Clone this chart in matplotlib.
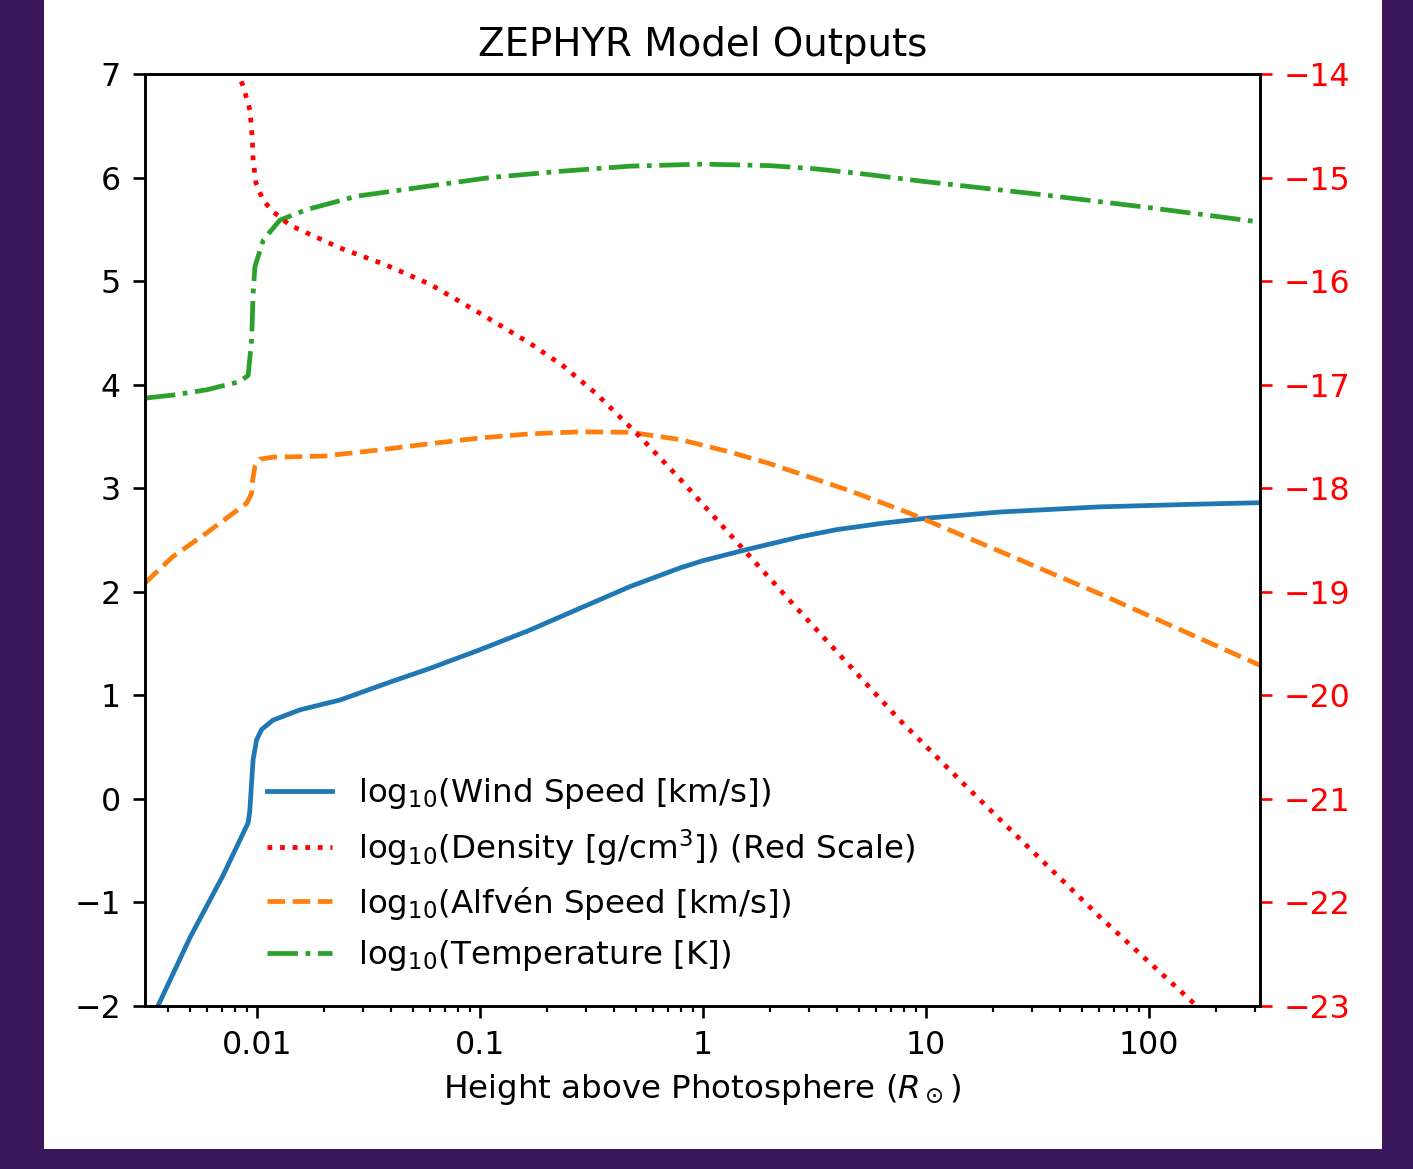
import matplotlib
matplotlib.use("Agg")
import matplotlib.pyplot as plt
from matplotlib.patches import Rectangle
from matplotlib import ticker

# heights above photosphere (R_sun) and log10 values
h_wind = [0.00315, 0.0036, 0.00501, 0.00705, 0.00914, 0.0093, 0.00947, 0.00962, 0.00997,
          0.0105, 0.0118, 0.0156, 0.0236, 0.0398, 0.0597, 0.1, 0.1675, 0.2805, 0.471, 0.789,
          1.0, 1.52, 2.72, 3.98, 6.31, 10, 21.4, 60.3, 158, 315]
wind = [-2.28, -2.0, -1.34, -0.74, -0.23, -0.11, 0.16, 0.38, 0.57,
        0.67, 0.76, 0.86, 0.955, 1.13, 1.26, 1.44, 1.63, 1.84, 2.05, 2.23,
        2.30, 2.40, 2.53, 2.60, 2.66, 2.71, 2.77, 2.82, 2.845, 2.86]

h_dens = [0.0075, 0.00824, 0.00869, 0.00931, 0.00953, 0.00962, 0.0099, 0.01066, 0.01183,
          0.01406, 0.0236, 0.0375, 0.0597, 0.1, 0.1675, 0.2366, 0.3337, 0.521, 0.789, 1.52,
          2.54, 3.99, 7.64, 14.7, 21.5, 60.3, 164, 315]
dens = [-13.6, -14.0, -14.12, -14.35, -14.61, -14.83, -15.05, -15.22, -15.33,
        -15.46, -15.68, -15.84, -16.03, -16.31, -16.60, -16.82, -17.09, -17.50, -17.91, -18.59,
        -19.12, -19.58, -20.24, -20.85, -21.20, -22.14, -23.0, -23.56]

h_alf = [0.00315, 0.0042, 0.00597, 0.00899, 0.00947, 0.00957, 0.0098, 0.0103, 0.0118,
         0.0198, 0.0356, 0.0597, 0.1, 0.1675, 0.2805, 0.471, 0.789, 1.32, 1.94, 2.72,
         4.56, 7.64, 9.12, 21.5, 60.3, 169, 315]
alfven = [2.085, 2.34, 2.57, 2.855, 2.95, 3.08, 3.21, 3.28, 3.30,
          3.31, 3.37, 3.43, 3.485, 3.525, 3.545, 3.54, 3.47, 3.35, 3.245, 3.14,
          2.975, 2.795, 2.73, 2.39, 1.98, 1.55, 1.29]

h_temp = [0.00315, 0.00422, 0.00594, 0.0084, 0.00914, 0.00947, 0.00962, 0.0098, 0.0107,
          0.0127, 0.0167, 0.028, 0.0558, 0.111, 0.228, 0.471, 1.0, 2.0, 3.16, 5.01,
          10, 31.6, 100, 315]
temp = [3.87, 3.90, 3.95, 4.03, 4.09, 4.43, 4.88, 5.14, 5.40,
        5.59, 5.69, 5.82, 5.91, 6.00, 6.06, 6.11, 6.13, 6.115, 6.085, 6.04,
        5.96, 5.84, 5.71, 5.57]

labels = ['log$_{10}$(Wind Speed [km/s])',
          'log$_{10}$(Density [g/cm$^3$]) (Red Scale)',
          'log$_{10}$(Alfvén Speed [km/s])',
          'log$_{10}$(Temperature [K])']

plt.rcParams['axes.linewidth'] = 1.0
plt.rcParams['xtick.major.size'] = 4.5
plt.rcParams['ytick.major.size'] = 4.5
plt.rcParams['xtick.major.width'] = 1.0
plt.rcParams['ytick.major.width'] = 1.0
plt.rcParams['xtick.minor.size'] = 2.4
plt.rcParams['xtick.minor.width'] = 0.8
plt.rcParams['xtick.major.pad'] = 4.6
plt.rcParams['ytick.major.pad'] = 4.6
plt.rcParams['xtick.labelsize'] = 12
plt.rcParams['ytick.labelsize'] = 12

dpi = 190
fig = plt.figure(figsize=(1413 / dpi, 1169 / dpi), dpi=dpi)
fig.patch.set_facecolor('#3a175d')
# white page area sitting on the purple background
fig.patches.append(Rectangle((44 / 1413, 20 / 1169), 1338 / 1413, 1149 / 1169,
                             transform=fig.transFigure, facecolor='white',
                             edgecolor='none', zorder=-10))

ax = fig.add_axes([145 / 1413, 1 - 1006 / 1169, 1115 / 1413, 932 / 1169])
ax2 = ax.twinx()

lw = 1.8
l1, = ax.plot(h_wind, wind, color='C0', lw=lw, label=labels[0])
l2, = ax2.plot(h_dens, dens, color='red', ls=':', lw=lw, label=labels[1])
l3, = ax.plot(h_alf, alfven, color='C1', ls='--', lw=lw, label=labels[2])
l4, = ax.plot(h_temp, temp, color='C2', ls='-.', lw=lw, label=labels[3])

ax.set_xscale('log')
ax.set_xlim(0.00315, 315)
ax.set_ylim(-2, 7)
ax2.set_ylim(-23, -14)
ax.xaxis.set_major_formatter(ticker.FuncFormatter(lambda v, p: '{:g}'.format(v)))

ax2.tick_params(axis='y', colors='red')
ax2.spines['right'].set_color('black')

ax.set_xlabel(r'Height above Photosphere ($R_\odot$)', fontsize=12.3)
ax.set_title('ZEPHYR Model Outputs', fontsize=14.7, pad=7)

ax2.legend([l1, l2, l3, l4], labels, loc='lower left', bbox_to_anchor=(0.083, 0.004),
           frameon=False, fontsize=12.3)

fig.savefig('out.png', dpi=dpi, facecolor=fig.get_facecolor())
